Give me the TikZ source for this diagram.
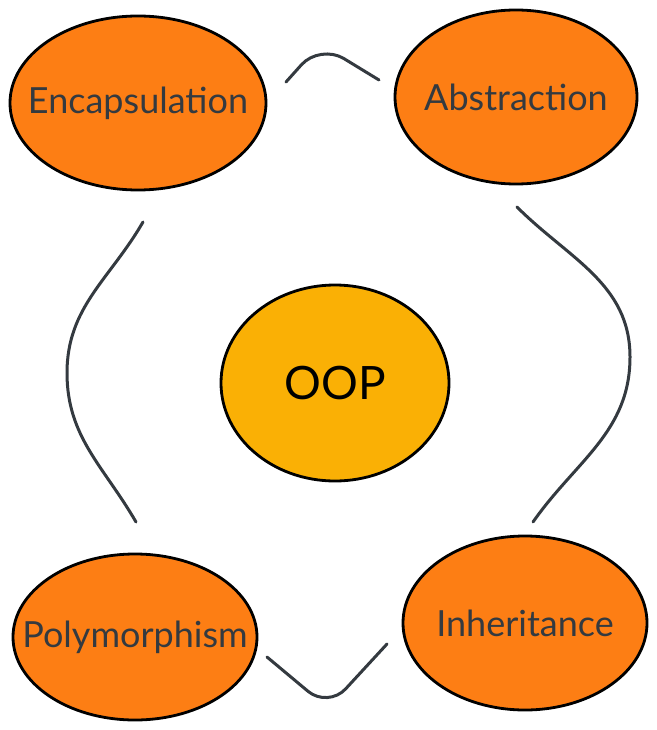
\documentclass[tikz,border=0pt]{standalone}
\usepackage{fontspec}
\setmainfont{Lato}
\usetikzlibrary{shapes.geometric}
\definecolor{pillar}{HTML}{FD7E14}
\definecolor{core}{HTML}{FAB005}
\definecolor{ink}{HTML}{343A40}
\tikzset{
  pillar/.style={ellipse, draw=black, line width=2.8pt, fill=pillar, inner sep=0pt,
    text=ink, font=\fontsize{36}{43}\selectfont},
  link/.style={draw=ink, line width=3pt, line cap=round, line join=round},
}
\newcommand{\word}[1]{\makebox[0pt]{#1}}
\begin{document}
\begin{tikzpicture}[x=1pt,y=-1pt]
\useasboundingbox (0,0) rectangle (656,730);
% the four pillars round the core
\node[pillar, minimum width=256pt, minimum height=174pt] (encap) at (138,103) {\word{Encapsulation}};
\node[pillar, minimum width=242pt, minimum height=174pt] (abstr) at (516,97) {\word{Abstraction}};
\node[pillar, minimum width=244pt, minimum height=166pt] (poly) at (135,637) {\word{Polymorphism}};
\node[pillar, minimum width=244pt, minimum height=174pt] (inher) at (525,623) {\word{Inheritance}};
\node[ellipse, draw=black, line width=2.8pt, fill=core, inner sep=0pt,
  minimum width=228pt, minimum height=196pt, font=\fontsize{46}{54}\selectfont] (oop) at (335,383) {\word{OOP}};
% loose ends of the links
\coordinate (topA) at (286,82);   \coordinate (topM) at (320,44);   \coordinate (topB) at (379,80);
\coordinate (lefA) at (143,222);  \coordinate (lefM) at (67,373);   \coordinate (lefB) at (136,522);
\coordinate (rigA) at (517,207);  \coordinate (rigM) at (630,357);  \coordinate (rigB) at (533,522);
\coordinate (botA) at (267,657);  \coordinate (botM) at (328,708);  \coordinate (botB) at (387,644);
\draw[link, rounded corners=28pt] (topA) -- (topM) -- (topB);
\draw[link] (lefA) to[out=240,in=90] (lefM) to[out=-90,in=120] (lefB);
\draw[link] (rigA) to[out=-45,in=90] (rigM) to[out=-90,in=55] (rigB);
\draw[link, rounded corners=26pt] (botA) -- (botM) -- (botB);
\end{tikzpicture}
\end{document}
